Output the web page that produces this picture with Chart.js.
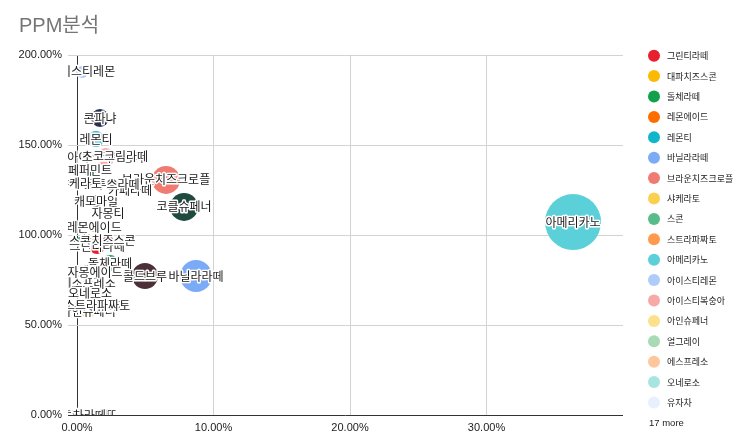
<!DOCTYPE html>
<html><head><meta charset="utf-8">
<script src="https://cdn.jsdelivr.net/npm/chart.js@4"></script>
<style>html,body{margin:0;padding:0;background:#fff}</style>
</head><body>
<canvas id="c" width="750" height="446"></canvas>
<script>
const TITLE = 'PPM분석';
const menuNames = [
  '그린티라떼','대파치즈스콘','돌체라떼','레몬에이드','레몬티','바닐라라떼','브라운치즈크로플','샤케라토','스콘','스트라파짜토',
  '아메리카노','아이스티레몬','아이스티복숭아','아인슈페너','얼그레이','에스프레소','오네로소','유자차',
  '자몽에이드','자몽티','초코크림라떼','카페라떼','캐모마일','코클슈페너','콘파냐','콜드브루','페퍼민트','황치즈스콘','로투스라떼',
  '카푸치노','카라멜마끼아또','토피넛라떼','핫초코','흑당라떼','녹차라떼'
];
// share of sales (%)
const xShare = [
  1.47, 0.22, 2.42, 1.25, 1.39, 8.72, 6.52, 0.22, 0.22, 1.47,
  36.34, 0.37, 2.12, 0.81, 0.07, 0.81, 0.95, 2.56,
  1.32, 2.27, 2.78, 3.88, 1.39, 7.84, 1.68, 4.98, 0.95, 2.27, 2.56,
  0.0, 0.1, 0.2, 0.3, 0.4, 0.5
];
// growth rate (%)
const yGrowth = [
  93.9, 0, 84.4, 104.4, 153.3, 77.2, 130.6, 128.9, 96.7, 61.1,
  107.2, 190.6, 143.3, 57.8, 80.0, 73.3, 67.8, 61.1,
  79.4, 112.2, 143.9, 125.0, 118.9, 115.6, 165.0, 77.2, 136.1, 97.2, 128.3,
  0, 0, 0, 0, 0, 0
];
// bubble size
const bubbleSize = [
  8, 5, 8, 5, 8, 16, 14, 4, 4, 4,
  28, 6, 9, 7, 6, 5, 5, 5,
  4, 5, 4, 5, 6, 14, 9, 13, 6, 5, 5,
  3, 3, 3, 3, 3, 3
];
const colors = [
  '#e8202e','#fbb904','#10a14a','#ff6d01','#12b5cb','#7baaf7','#f07b72','#fcd04f','#57bb8a','#ff994d',
  '#5bd0d8','#aecbfa','#f7a9a8','#fde08b','#a8dab5','#fdc69c','#a7e5e1','#e8f0fe',
  '#c2185b','#8d6e63','#6d4c41','#eeeeee','#4e3629','#1f4b3e','#26304f','#4b3137','#1d6b62','#b0245a','#4a2c5e',
  '#7b1f1f','#8a6d00','#0b5e2e','#a84300','#0b6d7a','#2f5aa8'
];
const xTickValues = [0, 10, 20, 30];
const yTickValues = [0, 50, 100, 150, 200];
const LEGEND_SHOWN = 18;

const FONT = '"Liberation Sans", "Noto Sans CJK KR", sans-serif';
const KFONT = '"Noto Sans CJK KR", "Liberation Sans", sans-serif';

const datasets = menuNames.map((n, i) => ({
  label: n,
  data: [{ x: xShare[i], y: yGrowth[i], r: bubbleSize[i] }],
  backgroundColor: colors[i],
  borderWidth: 0,
  hoverBorderWidth: 0,
  hoverRadius: 0,
  order: bubbleSize[i]
}));

const bubbleLabels = {
  id: 'bubbleLabels',
  afterDatasetsDraw(chart) {
    const ctx = chart.ctx, a = chart.chartArea;
    ctx.save();
    ctx.beginPath();
    ctx.rect(a.left, a.top, a.right - a.left, a.bottom - a.top);
    ctx.clip();
    ctx.font = '12px ' + KFONT;
    ctx.textAlign = 'center';
    ctx.textBaseline = 'middle';
    ctx.lineJoin = 'round';
    ctx.lineWidth = 3;
    ctx.strokeStyle = '#fff';
    ctx.fillStyle = '#1a1a1a';
    const idx = menuNames.map((_, i) => i).sort((p, q) => bubbleSize[q] - bubbleSize[p] || p - q);
    idx.forEach(i => {
      const el = chart.getDatasetMeta(i).data[0];
      if (!el) return;
      ctx.strokeText(menuNames[i], el.x, el.y);
      ctx.fillText(menuNames[i], el.x, el.y);
    });
    ctx.restore();
  }
};

const sideParts = {
  id: 'sideParts',
  afterDraw(chart) {
    const ctx = chart.ctx;
    ctx.save();
    ctx.font = '20px ' + FONT;
    ctx.fillStyle = '#757575';
    ctx.textAlign = 'left';
    ctx.textBaseline = 'alphabetic';
    ctx.fillText(TITLE, 19, 32);
    ctx.textBaseline = 'middle';
    for (let i = 0; i < LEGEND_SHOWN; i++) {
      const y = 55.7 + 20.4 * i;
      ctx.beginPath();
      ctx.arc(654, y, 6, 0, Math.PI * 2);
      ctx.fillStyle = colors[i];
      ctx.fill();
      ctx.font = '9px ' + KFONT;
      ctx.fillStyle = '#222';
      ctx.fillText(menuNames[i], 667, y);
    }
    ctx.font = '9.5px ' + FONT;
    ctx.fillStyle = '#222';
    ctx.fillText((menuNames.length - LEGEND_SHOWN) + ' more', 649, 55.7 + 20.4 * LEGEND_SHOWN);
    ctx.restore();
  }
};

new Chart(document.getElementById('c'), {
  type: 'bubble',
  data: { datasets },
  options: {
    responsive: false,
    animation: false,
    devicePixelRatio: 1,
    layout: { padding: { left: 0, top: 55, right: 127, bottom: 0 } },
    plugins: { legend: { display: false }, tooltip: { enabled: false }, title: { display: false } },
    events: [],
    scales: {
      x: {
        type: 'linear', min: -0.66, max: 40,
        afterBuildTicks: s => { s.ticks = xTickValues.map(v => ({ value: v })); },
        afterFit: s => { s.height = 31; },
        ticks: { callback: v => Number(v).toFixed(2) + '%', font: { size: 11, family: FONT }, color: '#222', padding: 6, maxRotation: 0 },
        grid: { color: c => (c.tick && c.tick.value === 0) ? '#333' : '#d3d3d3', drawTicks: false, lineWidth: 1 },
        border: { display: false }
      },
      y: {
        type: 'linear', min: 0, max: 200,
        afterBuildTicks: s => { s.ticks = yTickValues.map(v => ({ value: v })); },
        afterFit: s => { s.width = 68; },
        ticks: { callback: v => Number(v).toFixed(2) + '%', font: { size: 11, family: FONT }, color: '#222', padding: 6 },
        grid: { color: c => (c.tick && c.tick.value === 0) ? '#333' : '#d3d3d3', drawTicks: false, lineWidth: 1 },
        border: { display: false }
      }
    }
  },
  plugins: [bubbleLabels, sideParts]
});
</script>
</body></html>
